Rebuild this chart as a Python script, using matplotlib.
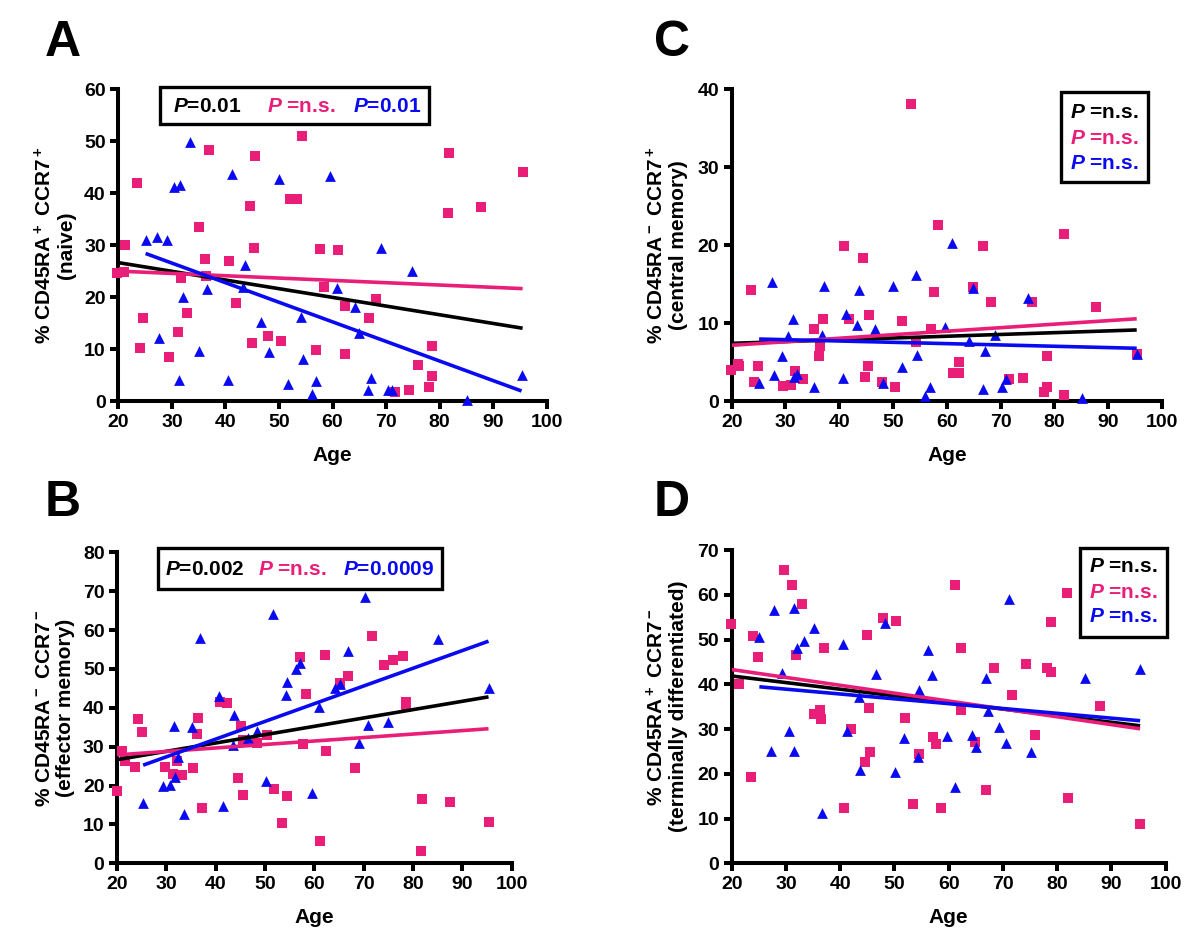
import matplotlib
matplotlib.use('Agg')
import matplotlib.pyplot as plt
from matplotlib.patches import Rectangle
import numpy as np

plt.rcParams['font.family'] = ['Liberation Sans', 'DejaVu Sans']
plt.rcParams['font.weight'] = 'bold'
plt.rcParams['mathtext.fontset'] = 'custom'
plt.rcParams['mathtext.rm'] = 'Liberation Sans:bold'
plt.rcParams['mathtext.it'] = 'Liberation Sans:italic:bold'
plt.rcParams['mathtext.bf'] = 'Liberation Sans:bold'

PINK = '#E91E79'
BLUE = '#0A0AF0'

# ---- panel A: naive ----
a_pink_age = [19.7, 21.1, 21.2, 23.4, 24.0, 24.7, 29.5, 31.2, 31.8, 32.9, 35.1, 36.2, 36.4, 36.9, 40.7,
              42.0, 44.6, 44.9, 45.4, 45.5, 47.9, 50.3, 52.0, 53.4, 54.3, 57.0, 57.6, 58.4, 61.1, 62.3,
              62.3, 66.8, 68.2, 71.7, 74.3, 76.0, 78.1, 78.6, 78.6, 81.6, 81.8, 87.7, 95.5]
a_pink_val = [24.6, 24.8, 30.0, 42.0, 10.2, 16.0, 8.5, 13.3, 23.6, 17.0, 33.5, 27.3, 24.1, 48.3, 27.0,
              18.9, 37.5, 11.2, 29.5, 47.1, 12.5, 11.6, 38.8, 38.8, 51.0, 9.8, 29.3, 22.0, 29.0, 18.3,
              9.1, 15.9, 19.6, 1.8, 2.2, 6.9, 2.6, 4.8, 10.6, 36.1, 47.8, 37.4, 44.0]
a_blue_age = [25.1, 27.3, 27.6, 29.1, 30.4, 31.4, 31.5, 32.1, 33.4, 35.1, 36.6, 40.5, 41.3, 43.2, 43.6,
              46.6, 48.2, 50.0, 51.7, 54.1, 54.5, 56.1, 56.9, 59.5, 60.9, 64.2, 65.0, 66.6, 67.1, 69.1,
              70.4, 71.2, 74.9, 85.1, 95.3]
a_blue_val = [30.9, 31.6, 12.1, 30.9, 41.1, 4.0, 41.5, 20.1, 49.9, 9.6, 21.5, 4.0, 43.6, 22.0, 26.1,
              15.3, 9.4, 42.8, 3.2, 16.2, 8.0, 1.3, 3.9, 43.3, 21.8, 18.0, 13.0, 2.1, 4.4, 29.5,
              2.2, 2.2, 25.0, 0.1, 5.0]

# ---- panel B: effector memory ----
b_pink_age = [20.1, 21.1, 21.6, 23.6, 24.3, 25.0, 29.7, 31.4, 32.1, 33.1, 35.5, 36.3, 36.5, 37.2, 40.9,
              42.2, 44.6, 45.1, 45.6, 45.6, 48.3, 50.5, 51.9, 53.5, 54.4, 57.1, 57.8, 58.4, 61.1, 62.2,
              62.3, 65.2, 66.8, 68.2, 71.6, 74.1, 75.9, 78.0, 78.6, 78.6, 81.6, 81.8, 87.5, 95.3]
b_pink_val = [18.6, 28.9, 26.2, 24.9, 37.1, 33.9, 24.9, 23.0, 26.4, 22.7, 24.4, 33.2, 37.3, 14.2, 41.4,
              41.2, 21.9, 35.4, 17.6, 31.7, 31.0, 33.0, 19.1, 10.3, 17.4, 53.2, 30.7, 43.5, 5.7, 53.6,
              28.9, 46.3, 48.3, 24.4, 58.6, 50.9, 52.3, 53.3, 40.3, 41.4, 3.2, 16.6, 15.9, 10.6]
b_blue_age = [25.3, 29.4, 30.7, 31.8, 31.6, 32.3, 33.6, 35.3, 36.8, 40.7, 41.4, 43.7, 43.6, 46.6, 48.3,
              50.1, 51.7, 54.3, 54.5, 56.2, 57.0, 59.6, 61.0, 64.1, 65.2, 66.9, 69.1, 70.3, 70.9, 75.0,
              85.1, 95.3]
b_blue_val = [15.4, 19.9, 20.1, 22.3, 35.4, 27.4, 12.7, 35.2, 57.9, 43.1, 14.8, 38.2, 30.4, 32.3, 34.0,
              21.3, 64.2, 43.3, 46.7, 50.1, 51.5, 18.0, 40.1, 45.0, 46.1, 54.7, 31.0, 68.6, 35.6, 36.4,
              57.6, 45.2]

# ---- panel C: central memory ----
c_pink_age = [19.8, 21.1, 21.4, 23.5, 24.1, 24.8, 29.6, 31.1, 31.8, 33.2, 35.3, 36.2, 36.5, 37.0, 40.8,
              41.9, 44.5, 44.8, 45.3, 45.5, 47.9, 50.3, 51.7, 53.4, 54.3, 57.0, 57.7, 58.3, 61.1, 62.2,
              62.2, 64.8, 66.7, 68.2, 71.6, 74.2, 75.9, 78.1, 78.6, 78.7, 81.7, 81.8, 87.7, 95.3]
c_pink_val = [4.0, 4.8, 4.5, 14.3, 2.5, 4.5, 1.9, 2.1, 3.8, 2.8, 9.2, 5.8, 7.0, 10.5, 19.9,
              10.5, 18.4, 3.1, 4.5, 11.0, 2.5, 1.8, 10.3, 38.1, 7.6, 9.3, 14.0, 22.6, 3.6, 3.6,
              5.0, 14.6, 19.9, 12.7, 2.8, 3.0, 12.7, 1.2, 1.8, 5.8, 0.8, 21.4, 12.0, 6.0]
c_blue_age = [25.1, 27.4, 27.8, 29.3, 30.5, 31.4, 31.6, 32.2, 35.3, 36.7, 37.2, 40.6, 41.2, 43.3, 43.7,
              46.6, 48.1, 50.0, 51.6, 54.2, 54.4, 56.0, 56.8, 59.6, 60.9, 64.1, 64.9, 66.7, 67.0, 69.0,
              70.2, 71.0, 75.0, 85.1, 95.3]
c_blue_val = [2.3, 15.3, 3.3, 5.8, 8.3, 10.5, 3.1, 3.5, 1.8, 8.5, 14.7, 3.0, 11.2, 9.8, 14.2,
              9.2, 2.3, 14.8, 4.3, 16.2, 5.9, 0.6, 1.8, 9.5, 20.3, 7.7, 14.5, 1.6, 6.4, 8.5,
              1.8, 2.8, 13.2, 0.4, 6.0]

# ---- panel D: terminally differentiated ----
d_pink_age = [19.8, 21.4, 23.5, 24.0, 24.8, 29.7, 31.2, 31.9, 33.0, 35.1, 36.2, 36.4, 37.0, 40.7, 42.0,
              44.6, 44.9, 45.4, 45.5, 47.9, 50.3, 51.9, 53.4, 54.5, 57.2, 57.7, 58.5, 61.2, 62.3, 62.3,
              64.9, 66.9, 68.3, 71.7, 74.3, 76.0, 78.2, 78.8, 78.9, 81.8, 82.0, 87.9, 95.3]
d_pink_val = [53.5, 40.1, 19.2, 50.8, 46.2, 65.5, 62.2, 46.5, 57.9, 33.3, 34.3, 32.2, 48.2, 12.3, 30.0,
              22.7, 50.9, 34.8, 24.8, 54.7, 54.2, 32.4, 13.2, 24.4, 28.3, 26.6, 12.4, 62.2, 48.2, 34.3,
              27.2, 16.4, 43.6, 37.5, 44.5, 28.7, 43.6, 54.0, 42.8, 60.5, 14.7, 35.2, 8.7]
d_blue_age = [25.1, 27.3, 27.8, 29.2, 30.5, 31.5, 31.5, 32.1, 33.4, 35.2, 36.7, 40.6, 41.2, 43.4, 43.7,
              46.6, 48.3, 50.2, 51.8, 54.3, 54.6, 56.2, 56.9, 59.7, 61.1, 64.3, 65.1, 66.8, 67.2, 69.3,
              70.5, 71.1, 75.1, 85.2, 95.3]
d_blue_val = [50.5, 25.1, 56.6, 42.6, 29.6, 57.1, 25.1, 48.2, 49.7, 52.6, 11.3, 48.9, 29.6, 37.2, 20.8,
              42.2, 53.8, 20.5, 28.1, 23.8, 38.7, 47.7, 42.1, 28.4, 17.1, 28.7, 25.9, 41.3, 34.0, 30.4,
              26.8, 59.0, 24.9, 41.3, 43.5]

W, H = 1200, 946
fig = plt.figure(figsize=(W / 100, H / 100), dpi=100)


def fx(x):
    return x / W


def fy(y):
    return 1 - y / H


def fit_line(ax, x, y, color):
    x = np.asarray(x)
    y = np.asarray(y)
    k, b = np.polyfit(x, y, 1)
    xs = np.array([x.min(), x.max()])
    ax.plot(xs, k * xs + b, color=color, lw=2.6, solid_capstyle='butt', zorder=4)


def panel(box, pa, pv, ba, bv, ymax, ylabel, ylab_x, letter, letter_xy):
    left, top, right, bottom = box
    ax = fig.add_axes([fx(left), fy(bottom), fx(right) - fx(left), fy(top) - fy(bottom)])
    ax.scatter(pa, pv, marker='s', s=42, color=PINK, lw=0, clip_on=False, zorder=3)
    ax.scatter(ba, bv, marker='^', s=60, color=BLUE, lw=0, clip_on=False, zorder=3)
    fit_line(ax, pa + ba, pv + bv, 'black')
    fit_line(ax, pa, pv, PINK)
    fit_line(ax, ba, bv, BLUE)
    ax.set_xlim(20, 100)
    ax.set_ylim(0, ymax)
    ax.set_xticks(range(20, 101, 10))
    ax.set_yticks(range(0, ymax + 1, 10))
    for s in ['top', 'right']:
        ax.spines[s].set_visible(False)
    for s in ['left', 'bottom']:
        ax.spines[s].set_linewidth(2.9)
    ax.tick_params(direction='out', length=6, width=2.9, labelsize=14, pad=3)
    for lab in ax.get_xticklabels() + ax.get_yticklabels():
        lab.set_fontweight('bold')
    fig.text(fx((left + right) / 2), fy(bottom + 54), 'Age', fontsize=15, fontweight='bold',
             ha='center', va='center')
    fig.text(fx(ylab_x), fy((top + bottom) / 2), ylabel, rotation=90, fontsize=15,
             fontweight='bold', ha='center', va='center', multialignment='center', linespacing=1.15)
    fig.text(fx(letter_xy[0]), fy(letter_xy[1]), letter, fontsize=36, fontweight='bold',
             ha='center', va='center')
    return ax


def box(x0, y0, x1, y1):
    fig.add_artist(Rectangle((fx(x0), fy(y1)), fx(x1) - fx(x0), fy(y0) - fy(y1),
                             transform=fig.transFigure, facecolor='white', edgecolor='black',
                             lw=2.4, zorder=5))


def label(x, y, txt, color):
    fig.text(fx(x), fy(y), txt, color=color, fontsize=15, fontweight='bold',
             ha='left', va='center', zorder=6)


panel((118.3, 89.3, 546.7, 401.0), a_pink_age, a_pink_val, a_blue_age, a_blue_val, 60,
      '% CD45RA$^+$ CCR7$^+$\n(naive)', 55, 'A', (63, 43))
panel((117.0, 552.4, 511.7, 863.3), b_pink_age, b_pink_val, b_blue_age, b_blue_val, 80,
      '% CD45RA$^-$ CCR7$^-$\n(effector memory)', 55, 'B', (63, 503))
panel((731.7, 89.3, 1162.0, 401.0), c_pink_age, c_pink_val, c_blue_age, c_blue_val, 40,
      '% CD45RA$^-$ CCR7$^+$\n(central memory)', 667, 'C', (672, 43))
panel((731.7, 550.0, 1165.6, 863.3), d_pink_age, d_pink_val, d_blue_age, d_blue_val, 70,
      '% CD45RA$^+$ CCR7$^-$\n(terminally differentiated)', 667, 'D', (672, 503))

# P-value boxes
box(160, 87, 429, 124)
label(173, 106, '$P$=0.01', 'black')
label(267, 106, '$P$ =n.s.', PINK)
label(353, 106, '$P$=0.01', BLUE)

box(158, 548, 442, 589)
label(165, 569, '$P$=0.002', 'black')
label(258, 569, '$P$ =n.s.', PINK)
label(343, 569, '$P$=0.0009', BLUE)

box(1061, 92, 1148, 182)
label(1070, 113, '$P$ =n.s.', 'black')
label(1070, 138, '$P$ =n.s.', PINK)
label(1070, 163, '$P$ =n.s.', BLUE)

box(1080, 548, 1167, 637)
label(1089, 567, '$P$ =n.s.', 'black')
label(1089, 592, '$P$ =n.s.', PINK)
label(1089, 617, '$P$ =n.s.', BLUE)

fig.savefig('out.png', dpi=100)
